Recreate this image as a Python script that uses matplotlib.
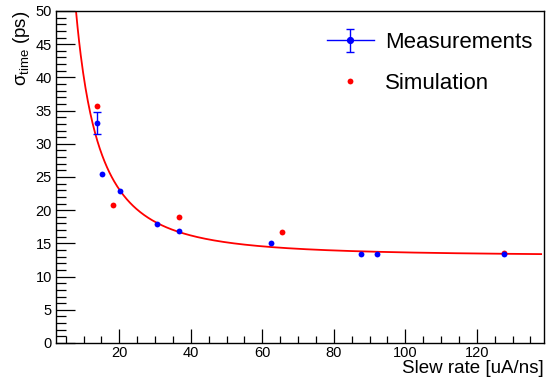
import numpy as np
import matplotlib.pyplot as plt

# measured timing resolution vs slew rate
meas_x = [13.7, 15.3, 20.3, 30.6, 36.7, 62.5, 87.7, 92.2, 127.7]
meas_y = [33.1, 25.4, 22.9, 17.9, 16.8, 15.1, 13.4, 13.4, 13.4]
meas_err = [1.65, 0.3, 0.3, 0.2, 0.2, 0.2, 0.2, 0.2, 0.2]

# simulation points
sim_x = [13.7, 18.3, 36.8, 65.5, 127.7]
sim_y = [35.7, 20.8, 19.0, 16.7, 13.5]

# fit: sigma = sqrt(a^2 + (b/x)^2)
fit_a = 13.1
fit_b = 381.0


def fit_func(x, a, b):
    return np.sqrt(a ** 2 + (b / x) ** 2)


plt.rcParams['font.family'] = ['Liberation Sans', 'DejaVu Sans']
plt.rcParams['mathtext.fontset'] = 'custom'
plt.rcParams['mathtext.rm'] = 'Liberation Sans'
plt.rcParams['mathtext.it'] = 'Liberation Sans:italic'

fig = plt.figure(figsize=(5.48, 3.81), dpi=100)
ax = fig.add_axes([56 / 548, 1 - 343 / 381, 488 / 548, 332 / 381])

xs = np.linspace(5.0, 138.0, 600)
ax.plot(xs, fit_func(xs, fit_a, fit_b), color='red', lw=1.3, zorder=1)

sim_line, = ax.plot(sim_x, sim_y, 'o', color='red', ms=4.2, mec='none', zorder=2)

# error bars only show where they are larger than the marker
mx = np.array(meas_x)
my = np.array(meas_y)
me = np.array(meas_err)
big = me > 0.5
ax.errorbar(mx[big], my[big], yerr=me[big], fmt='none', ecolor='blue',
            elinewidth=1.0, capsize=3, capthick=1.0, zorder=3)
ax.plot(mx, my, 'o', color='blue', ms=4.2, mec='none', zorder=4)

# proxy for the legend entry (line + marker + error bar)
meas_proxy = ax.errorbar([np.nan], [np.nan], yerr=[1.0], fmt='o-', color='blue', ms=4.2,
                         lw=1.0, capsize=3, capthick=1.0)

ax.set_xlim(2.3, 138.8)
ax.set_ylim(0, 50)
ax.set_xticks([20, 40, 60, 80, 100, 120])
ax.set_xticks(np.arange(5, 140, 5), minor=True)
ax.set_yticks(np.arange(0, 51, 5))
ax.set_yticks(np.arange(0, 51, 1), minor=True)

ax.tick_params(axis='both', which='both', direction='in', labelsize=10.5, top=False, right=False)
ax.tick_params(axis='y', which='major', length=14, width=0.9, pad=3)
ax.tick_params(axis='y', which='minor', length=7, width=0.9)
ax.tick_params(axis='x', which='major', length=10, width=0.9, pad=2.5)
ax.tick_params(axis='x', which='minor', length=5, width=0.9)
for sp in ax.spines.values():
    sp.set_linewidth(1.0)

ax.set_xlabel('Slew rate [uA/ns]', fontsize=13.5, ha='right')
ax.xaxis.set_label_coords(1.0, -0.05)
ax.xaxis.label.set_va('top')

ax.set_ylabel('σ$_{\\mathrm{time}}$ (ps)', fontsize=13.5, ha='right')
ax.yaxis.set_label_coords(-0.07, 1.0)
ax.yaxis.label.set_va('center')

ax.legend([meas_proxy, sim_line], ['Measurements', 'Simulation'], loc='upper left',
          bbox_to_anchor=(0.537, 0.963), frameon=False, fontsize=16, handlelength=2.1,
          labelspacing=0.9, handletextpad=0.5, borderaxespad=0.0)

fig.savefig('out.png', dpi=100)
